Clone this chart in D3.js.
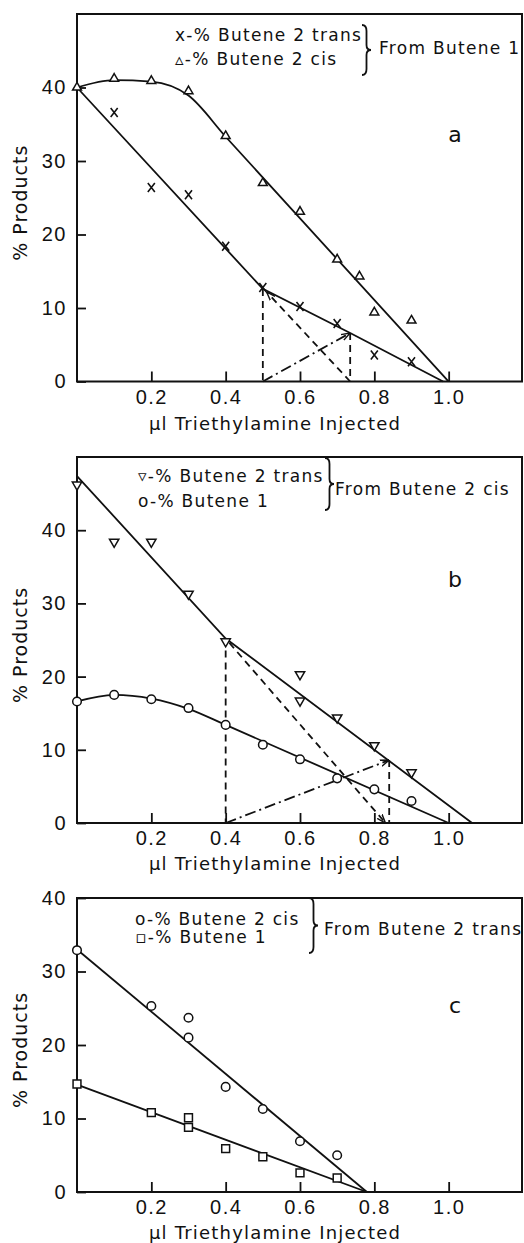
<!DOCTYPE html>
<html>
<head>
<meta charset="utf-8">
<title>Butene isomerization</title>
<style>
body { margin: 0; background: #fff; }
svg { display: block; font-family: 'DejaVu Sans', sans-serif; }
.frame { fill: none; stroke: #111; stroke-width: 2; }
.tick line { stroke: #111; stroke-width: 1.8; }
.tick text { font-size: 20px; fill: #111; letter-spacing: 1.5px; }
.fit { fill: none; stroke: #111; stroke-width: 1.8; }
.dash { fill: none; stroke: #111; stroke-width: 1.8; stroke-dasharray: 7,5; }
.dashdot { fill: none; stroke: #111; stroke-width: 1.8; stroke-dasharray: 11,4,2,4; }
.mark { fill: #fff; stroke: #111; stroke-width: 1.5; }
.cross { fill: none; stroke: #111; stroke-width: 1.6; }
.legend { font-size: 17px; letter-spacing: 1.3px; fill: #111; }
.atitle { font-size: 18px; letter-spacing: 1.2px; fill: #111; }
.ytitle { font-size: 19px; letter-spacing: 1px; fill: #111; }
.letter { font-size: 22px; fill: #111; }
</style>
<script src="https://cdn.jsdelivr.net/npm/d3@7"></script>
</head>
<body>
<script>
var width = 524,
    height = 1243;

// shared x ticks
var xTicks = [0.2, 0.4, 0.6, 0.8, 1.0];

// panel a : from Butene 1
var aYTicks = [0, 10, 20, 30, 40];
var aTrans = [[0.1, 36.6], [0.2, 26.4], [0.3, 25.4], [0.4, 18.4], [0.5, 12.8], [0.6, 10.2], [0.7, 7.9], [0.8, 3.6], [0.9, 2.7]];
var aCis = [[0, 40], [0.1, 41.2], [0.2, 40.9], [0.3, 39.5], [0.4, 33.4], [0.5, 27], [0.6, 23.1], [0.7, 16.6], [0.76, 14.3], [0.8, 9.4], [0.9, 8.3]];
var aTransFit = [[0, 40], [0.5, 12.6], [0.735, 6.6], [0.985, 0]];
var aCisFit = [[0, 40], [0.1, 41], [0.2, 40.8], [0.3, 38.9], [0.4, 33.3], [1.0, 0]];
var aDashes = [[[0.5, 12.6], [0.5, 0]], [[0.735, 6.6], [0.735, 0]]];
var aArrowDash = [[0.735, 0], [0.51, 12.2]];
var aDashDot = [[0.5, 0], [0.735, 6.6]];
var aLegend = ["x-% Butene 2 trans", "\u25B5-% Butene 2 cis"];
var aFrom = "From Butene 1";

// panel b : from Butene 2 cis
var bYTicks = [0, 10, 20, 30, 40];
var bTrans = [[0, 46.2], [0.1, 38.4], [0.2, 38.4], [0.3, 31.3], [0.4, 24.8], [0.6, 20.3], [0.6, 16.7], [0.7, 14.4], [0.8, 10.6], [0.9, 6.9]];
var bB1 = [[0, 16.6], [0.1, 17.5], [0.2, 16.9], [0.3, 15.7], [0.4, 13.4], [0.5, 10.7], [0.6, 8.7], [0.7, 6.1], [0.8, 4.6], [0.9, 3.0]];
var bTransFit = [[0, 47.4], [0.4, 25.2], [1.063, 0]];
var bB1Fit = [[0, 16.6], [0.1, 17.5], [0.2, 17.0], [0.3, 15.6], [0.4, 13.4], [1.0, 0]];
var bDashes = [[[0.4, 25.2], [0.4, 0]], [[0.84, 8.6], [0.84, 0]]];
var bArrowDash = [[0.41, 24.6], [0.83, 0]];
var bDashDot = [[0.4, 0], [0.84, 8.6]];
var bLegend = ["\u25BF-% Butene 2 trans", "o-% Butene 1"];
var bFrom = "From Butene 2 cis";

// panel c : from Butene 2 trans
var cYTicks = [0, 10, 20, 30, 40];
var cCis = [[0, 32.9], [0.2, 25.3], [0.3, 23.7], [0.3, 21.0], [0.4, 14.3], [0.5, 11.3], [0.6, 6.9], [0.7, 5.0]];
var cB1 = [[0, 14.7], [0.2, 10.8], [0.3, 10.1], [0.3, 8.8], [0.4, 5.9], [0.5, 4.8], [0.6, 2.6], [0.7, 1.9]];
var cCisFit = [[0, 33], [0.78, 0]];
var cB1Fit = [[0, 14.6], [0.78, 0]];
var cLegend = ["o-% Butene 2 cis", "\u25AB-% Butene 1"];
var cFrom = "From Butene 2 trans";

var svg = d3.select('body')
    .append('svg')
    .attr('width', width)
    .attr('height', height);

svg.append('defs').append('marker')
    .attr('id', 'arr')
    .attr('viewBox', '0 -5 10 10')
    .attr('refX', 10)
    .attr('refY', 0)
    .attr('markerWidth', 9)
    .attr('markerHeight', 9)
    .attr('markerUnits', 'userSpaceOnUse')
    .attr('orient', 'auto')
    .append('path')
    .attr('d', 'M0,-3.5L10,0L0,3.5')
    .attr('fill', 'none')
    .attr('stroke', '#111')
    .attr('stroke-width', 1.6);

var x = d3.scaleLinear().domain([0, 1.2]).range([77, 523]);

var symbols = {
    up: d3.symbol(d3.symbolTriangle, 34)(),
    down: d3.symbol(d3.symbolTriangle, 38)(),
    circle: d3.symbol(d3.symbolCircle, 58)(),
    square: d3.symbol(d3.symbolSquare, 62)(),
    cross: 'M-3.5,-4.5L3.5,4.5M3.5,-4.5L-3.5,4.5'
};

var panels = [
    { top: 14, bottom: 381.5, yMax: 50, yTicks: aYTicks, titleY: 430, letter: 'a', letterY: 142,
      fits: [aTransFit, aCisFit], curved: [false, true],
      marks: [[aTrans, 'cross'], [aCis, 'up']],
      dashes: aDashes, arrowDash: aArrowDash, dashDot: aDashDot,
      legend: aLegend, from: aFrom, legX: 175, legY: [41, 65], braceX: 362, braceY: [25, 75], fromX: 379, fromY: 54 },
    { top: 457, bottom: 823, yMax: 50, yTicks: bYTicks, titleY: 870, letter: 'b', letterY: 587,
      fits: [bTransFit, bB1Fit], curved: [false, true],
      marks: [[bTrans, 'down'], [bB1, 'circle']],
      dashes: bDashes, arrowDash: bArrowDash, dashDot: bDashDot,
      legend: bLegend, from: bFrom, legX: 138, legY: [482, 507], braceX: 325, braceY: [458, 510], fromX: 335, fromY: 495 },
    { top: 898, bottom: 1192, yMax: 40, yTicks: cYTicks, titleY: 1239, letter: 'c', letterY: 1013,
      fits: [cCisFit, cB1Fit], curved: [false, false],
      marks: [[cCis, 'circle'], [cB1, 'square']],
      dashes: [], arrowDash: null, dashDot: null,
      legend: cLegend, from: cFrom, legX: 135, legY: [925, 943], braceX: 309, braceY: [898, 953], fromX: 324, fromY: 935 }
];

var brace = function (x0, y0, y1) {
    var w = 9, m = (y0 + y1) / 2, xm = x0 + w / 2;
    return 'M' + x0 + ',' + y0 +
        'Q' + xm + ',' + y0 + ' ' + xm + ',' + (y0 + 6) +
        'L' + xm + ',' + (m - 5) +
        'Q' + xm + ',' + m + ' ' + (x0 + w) + ',' + m +
        'Q' + xm + ',' + m + ' ' + xm + ',' + (m + 5) +
        'L' + xm + ',' + (y1 - 6) +
        'Q' + xm + ',' + y1 + ' ' + x0 + ',' + y1;
};

panels.forEach(function (p) {
    var y = d3.scaleLinear().domain([0, p.yMax]).range([p.bottom, p.top]);
    var g = svg.append('g');

    var straight = d3.line().x(function (d) { return x(d[0]); }).y(function (d) { return y(d[1]); });
    var smooth = d3.line().curve(d3.curveMonotoneX).x(function (d) { return x(d[0]); }).y(function (d) { return y(d[1]); });

    g.append('rect')
        .attr('class', 'frame')
        .attr('x', x(0))
        .attr('y', y(p.yMax))
        .attr('width', x(1.2) - x(0) - 1)
        .attr('height', y(0) - y(p.yMax));

    var xAxis = g.append('g')
        .attr('transform', 'translate(0,' + y(0) + ')')
        .call(d3.axisBottom(x).tickValues(xTicks).tickFormat(d3.format('.1f')).tickSize(-10).tickPadding(8));
    xAxis.select('.domain').remove();

    var yAxis = g.append('g')
        .attr('transform', 'translate(' + x(0) + ',0)')
        .call(d3.axisLeft(y).tickValues(p.yTicks).tickSize(-9).tickPadding(10));
    yAxis.select('.domain').remove();

    g.append('text')
        .attr('class', 'atitle')
        .attr('x', 275)
        .attr('y', p.titleY)
        .attr('text-anchor', 'middle')
        .text('\u03BCl Triethylamine Injected');

    g.append('text')
        .attr('class', 'ytitle')
        .attr('transform', 'translate(27,' + ((p.top + p.bottom) / 2 + 5) + ') rotate(-90)')
        .attr('text-anchor', 'middle')
        .text('% Products');

    g.append('text')
        .attr('class', 'letter')
        .attr('x', 455)
        .attr('y', p.letterY)
        .attr('text-anchor', 'middle')
        .text(p.letter);

    // construction lines
    p.dashes.forEach(function (d) {
        g.append('path').attr('class', 'dash').attr('d', straight(d));
    });
    if (p.arrowDash) {
        g.append('path').attr('class', 'dash').attr('d', straight(p.arrowDash)).attr('marker-end', 'url(#arr)');
    }
    if (p.dashDot) {
        g.append('path').attr('class', 'dashdot').attr('d', straight(p.dashDot)).attr('marker-end', 'url(#arr)');
    }

    p.fits.forEach(function (f, i) {
        g.append('path')
            .attr('class', 'fit')
            .attr('d', p.curved[i] ? smooth(f) : straight(f));
    });

    p.marks.forEach(function (m) {
        var kind = m[1];
        g.selectAll(null)
            .data(m[0])
            .enter()
            .append('path')
            .attr('class', kind === 'cross' ? 'cross' : 'mark')
            .attr('transform', function (d) {
                return 'translate(' + x(d[0]) + ',' + y(d[1]) + ')' + (kind === 'down' ? ' rotate(180)' : '');
            })
            .attr('d', symbols[kind]);
    });

    // legend
    g.selectAll(null)
        .data(p.legend)
        .enter()
        .append('text')
        .attr('class', 'legend')
        .attr('x', p.legX)
        .attr('y', function (d, i) { return p.legY[i]; })
        .text(function (d) { return d; });

    g.append('path')
        .attr('class', 'fit')
        .attr('stroke-width', 1.5)
        .attr('d', brace(p.braceX, p.braceY[0], p.braceY[1]));

    g.append('text')
        .attr('class', 'legend')
        .attr('x', p.fromX)
        .attr('y', p.fromY)
        .text(p.from);
});
</script>
</body>
</html>
